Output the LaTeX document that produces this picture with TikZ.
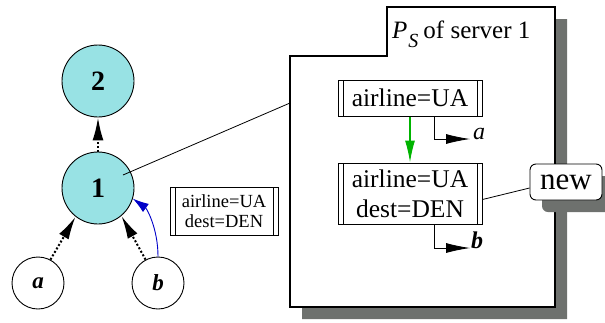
\documentclass[tikz,border=0pt]{standalone}
\usepackage{fontspec}
\setmainfont{Liberation Serif}
\usetikzlibrary{arrows.meta,calc,shadows}
\definecolor{nodefill}{RGB}{152,226,228}
\definecolor{shadowgray}{RGB}{110,113,110}
\definecolor{arrgreen}{RGB}{0,180,0}
\definecolor{arrblue}{RGB}{0,0,200}
\tikzset{
  server/.style={circle,draw=black,line width=0.9pt,fill=nodefill,minimum size=72pt,inner sep=0pt,font=\fontsize{28}{30}\selectfont\bfseries},
  client/.style={circle,draw=black,line width=0.9pt,fill=white,minimum size=52pt,inner sep=0pt,font=\fontsize{23}{25}\selectfont\bfseries\itshape},
  fwd/.style={dotted,line width=2pt,-{Latex[length=23pt,width=11pt]}},
  predicate/.style={draw=black,line width=1pt,fill=white,inner sep=0pt,align=center,
    path picture={\draw[line width=0.6pt] ([xshift=5pt]path picture bounding box.north west) -- ([xshift=5pt]path picture bounding box.south west);
                  \draw[line width=0.6pt] ([xshift=-5pt]path picture bounding box.north east) -- ([xshift=-5pt]path picture bounding box.south east);}},
  outarrow/.style={line width=0.8pt,-{Latex[length=24pt,width=10pt]}},
  outlabel/.style={anchor=base west,inner sep=0pt,font=\fontsize{24}{26}\selectfont\itshape},
}
\begin{document}
\begin{tikzpicture}[x=1pt,y=-1pt]
\useasboundingbox (0,0) rectangle (605,322);
% panel with shadow
\fill[shadowgray] (302,68) -- (399,68) -- (399,19) -- (567,19) -- (567,319) -- (302,319) -- cycle;
\draw[line width=1.1pt,fill=white] (290,56) -- (387,56) -- (387,7) -- (555,7) -- (555,307) -- (290,307) -- cycle;
\node[anchor=base west,inner sep=0pt,font=\fontsize{25}{27}\selectfont] (title) at (392,38)
  {{\itshape P}\kern1pt\raisebox{-9pt}{\fontsize{20}{22}\selectfont\itshape S}\kern5pt of server 1};
% tree
\node[server] (n2) at (98,81) {2};
\node[server] (n1) at (98,188) {1};
\node[client] (a) at (38,283) {a};
\node[client] (b) at (158,283) {b};
\draw[fwd] (n1) -- (n2);
\draw[fwd] (a.62) -- (n1.232);
\draw[fwd] (b.118) -- (n1.310);
\draw[arrblue,line width=0.9pt,-{Latex[length=16pt,width=10pt]}] (b.north) .. controls +(0,-28) and +(14,10) .. (n1.343);
\node[predicate,minimum width=108pt,minimum height=48pt,font=\fontsize{18.5}{20}\selectfont] (msg) at (224,211) {airline=UA\\dest=DEN};
% link to panel
\coordinate (c1) at (123,175);
\coordinate (pl) at (290,103);
\draw[line width=0.8pt] (c1) -- (pl);
% predicates
\node[predicate,minimum width=144pt,minimum height=36pt,font=\fontsize{25.5}{30}\selectfont] (A) at (410,98) {airline=UA};
\node[predicate,minimum width=144pt,minimum height=61pt,font=\fontsize{25.5}{30}\selectfont] (B) at (410,193.5) {airline=UA\\dest=DEN};
\draw[arrgreen,line width=1.4pt,-{Latex[length=22pt,width=10pt]}] (A.south) -- (B.north);
\coordinate (ta) at (470,139);
\coordinate (tb) at (470,248);
\draw[outarrow] ([xshift=24pt]A.south) |- (ta);
\draw[outarrow] ([xshift=24pt]B.south) |- (tb);
\node[outlabel] (la) at (473,139) {a};
\node[outlabel,font=\fontsize{24}{26}\selectfont\bfseries\itshape] (lb) at (471,248) {b};
% new
\node[draw=black,line width=0.9pt,fill=white,rounded corners=6pt,minimum width=72pt,minimum height=36pt,inner sep=0pt,
  font=\fontsize{31}{33}\selectfont,
  general shadow={fill=shadowgray,shadow xshift=12pt,shadow yshift=-12pt,rounded corners=6pt}] (new) at (566,182) {new};
\draw[line width=0.8pt] ([yshift=-6pt]B.east) -- ([yshift=-6pt]new.west);
\end{tikzpicture}
\end{document}
